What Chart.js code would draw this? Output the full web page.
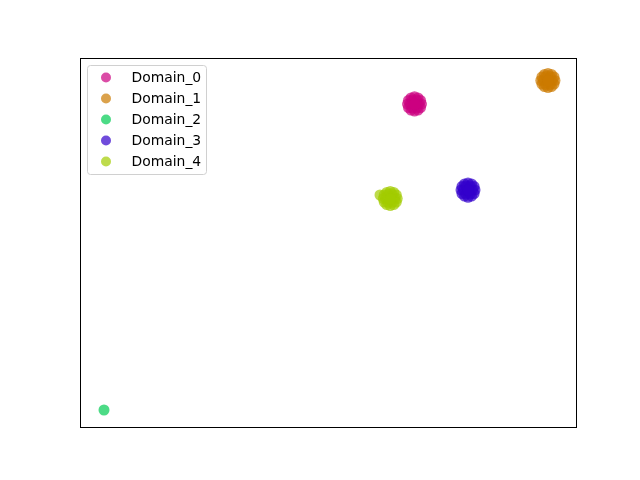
<!DOCTYPE html>
<html>
<head>
<meta charset="utf-8">
<script src="https://cdn.jsdelivr.net/npm/chart.js@4/dist/chart.umd.min.js"></script>
<style>
  html, body { margin: 0; padding: 0; background: #fff; }
  #wrap { width: 640px; height: 480px; }
</style>
</head>
<body>
<div id="wrap"><canvas id="chart" width="640" height="480"></canvas></div>
<script>
// domain labels and colours
const domains = ['Domain_0', 'Domain_1', 'Domain_2', 'Domain_3', 'Domain_4'];
const colors = ['#cc0080', '#cc7a00', '#00cc52', '#3300cc', '#a3cc00'];

// embedded points per domain (x, y)
const domain0X = [68.85, 68.66, 68.15, 67.44, 66.73, 66.22, 66.03, 66.22, 66.73, 67.44, 68.15, 68.66,
                  68.35, 67.89, 66.99, 66.53, 66.99, 67.89, 67.44, 67.50];
const domain0Y = [87.53, 88.48, 89.18, 89.50, 89.18, 88.48, 87.53, 86.58, 85.88, 85.63, 85.88, 86.58,
                  87.53, 88.59, 88.59, 87.53, 86.47, 86.47, 87.53, 87.40];
const domain1X = [95.76, 95.57, 95.06, 94.35, 93.64, 93.13, 92.90, 93.13, 93.64, 94.35, 95.06, 95.57,
                  95.26, 94.80, 93.90, 93.44, 93.90, 94.80, 94.35, 94.40];
const domain1Y = [93.90, 94.85, 95.55, 95.80, 95.55, 94.85, 93.90, 92.95, 92.25, 92.00, 92.25, 92.95,
                  93.90, 94.96, 94.96, 93.90, 92.84, 92.84, 93.90, 93.80];
const domain2X = [4.84];
const domain2Y = [4.61];
const domain3X = [79.64, 79.45, 78.94, 78.23, 77.52, 77.01, 76.82, 77.01, 77.52, 78.23, 78.94, 79.45,
                  79.14, 78.68, 77.78, 77.32, 77.78, 78.68, 78.23, 78.30];
const domain3Y = [64.23, 65.18, 65.88, 66.13, 65.88, 65.18, 64.23, 63.28, 62.58, 62.25, 62.58, 63.28,
                  64.23, 65.29, 65.29, 64.23, 63.17, 63.17, 64.23, 64.10];
const domain4X = [63.96, 63.77, 63.26, 62.55, 61.84, 61.33, 61.14, 61.33, 61.84, 62.55, 63.26, 63.77,
                  63.46, 63.00, 62.10, 61.64, 62.10, 63.00, 62.55, 62.60, 60.48];
const domain4Y = [61.92, 62.87, 63.57, 63.85, 63.57, 62.87, 61.92, 60.97, 60.27, 60.00, 60.27, 60.97,
                  61.92, 62.98, 62.98, 61.92, 60.86, 60.86, 61.92, 61.80, 62.87];

const xs = [domain0X, domain1X, domain2X, domain3X, domain4X];
const ys = [domain0Y, domain1Y, domain2Y, domain3Y, domain4Y];

function withAlpha(hex, a) {
    const r = parseInt(hex.slice(1, 3), 16);
    const g = parseInt(hex.slice(3, 5), 16);
    const b = parseInt(hex.slice(5, 7), 16);
    return 'rgba(' + r + ',' + g + ',' + b + ',' + a + ')';
}

const datasets = domains.map((name, i) => ({
    label: name,
    data: xs[i].map((x, j) => ({ x: x, y: ys[i][j] })),
    backgroundColor: withAlpha(colors[i], 0.7),
    borderColor: withAlpha(colors[i], 0.7),
    borderWidth: 0,
    pointRadius: 5.5,
    pointHoverRadius: 5.5,
}));

// matplotlib-like frame and legend
const framePlugin = {
    id: 'frame',
    afterDraw(chart) {
        const c = chart.ctx;
        const a = chart.chartArea;
        c.save();
        c.strokeStyle = '#000';
        c.lineWidth = 1;
        c.strokeRect(Math.round(a.left) + 0.5, Math.round(a.top) + 0.5,
            Math.round(a.right - a.left), Math.round(a.bottom - a.top));

        // legend box
        const bx = a.left + 7.5, by = a.top + 7.5, bw = 119, bh = 109;
        c.fillStyle = 'rgba(255,255,255,0.8)';
        c.strokeStyle = '#d0d0d0';
        c.beginPath();
        c.roundRect(bx, by, bw, bh, 3);
        c.fill();
        c.stroke();

        c.font = '13.9px "DejaVu Sans"';
        c.textBaseline = 'middle';
        chart.data.datasets.forEach((ds, i) => {
            const y = by + 12 + i * 21;
            c.fillStyle = ds.backgroundColor;
            c.beginPath();
            c.arc(bx + 18.5, y, 5, 0, Math.PI * 2);
            c.fill();
            c.fillStyle = '#000';
            c.fillText(ds.label, bx + 44, y + 0.5);
        });
        c.restore();
    }
};

new Chart(document.getElementById('chart'), {
    type: 'scatter',
    data: { datasets: datasets },
    options: {
        responsive: false,
        animation: false,
        layout: { padding: { left: 80, right: 64, top: 58, bottom: 53 } },
        scales: {
            x: { display: false, min: 0, max: 100 },
            y: { display: false, min: 0, max: 100 },
        },
        plugins: {
            legend: { display: false },
            tooltip: { enabled: false },
        },
    },
    plugins: [framePlugin],
});
</script>
</body>
</html>
